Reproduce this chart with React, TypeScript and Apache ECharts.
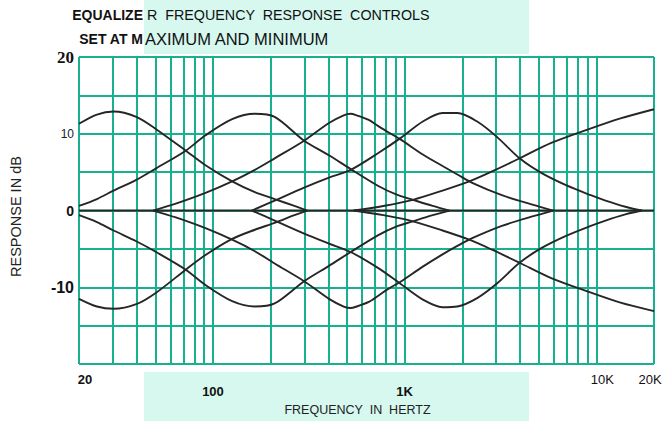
import React, { useEffect, useRef } from 'react';
import * as echarts from 'echarts';

// vertical grid (frequency) lines in Hz
const gridFreqs = [20, 30, 40, 50, 60, 70, 80, 90, 100, 200, 300, 400, 500, 600, 700, 800, 900, 1000, 2000, 3000, 4000, 5000, 6000, 7000, 8000, 9000, 10000, 20000];
const xTickValues = [20, 100, 1000, 10000, 20000];
const xTickLabels = ['20', '100', '1K', '10K', '20K'];
const xTickStyles = ['a', 'b', 'b', 'c', 'd'];
const yTickValues = [20, 10, 0, -10];
const yTickLabels = ['20', '10', '0', '-10'];
const yTickStyles = ['t', 's', 'z', 'm'];

// flat response
const flat = [[20, 0], [20000, 0]];

// boost curves (controls at maximum) [Hz, dB]
const boost1 = [[20, 11.3], [24.8, 12.5], [30.3, 12.9], [39.8, 12.2], [50.5, 10.6], [72.1, 7.8], [91.4, 5.9], [125.9, 3.8], [165.4, 2.4], [209.8, 1.5], [266, 0.6], [310, 0]];
const boost2 = [[20, 0.6], [24.8, 1.5], [30.3, 2.6], [39.8, 4.0], [50.5, 5.5], [72.1, 7.8], [91.4, 9.8], [125.9, 11.9], [165.4, 12.6], [209.8, 12.2], [299, 9.1], [403, 7.2], [523, 5.4], [729, 3.2], [903, 2.1], [1105, 1.4], [1401, 0.6], [1715, 0]];
const boost3 = [[48.7, 0], [64, 0.9], [91.4, 2.3], [125.9, 3.8], [165.4, 5.3], [209.8, 6.8], [299, 9.1], [403, 11.4], [481, 12.4], [523, 12.6], [562, 12.4], [650, 11.8], [729, 11.0], [821, 10.2], [947, 9.3], [1244, 7.3], [1577, 5.8], [1884, 4.7], [2252, 3.6], [3216, 2.0], [4590, 0.8], [5957, 0]];
const boost4 = [[159.6, 0], [209.8, 1.3], [299, 3.0], [403, 4.3], [523, 5.3], [729, 7.5], [947, 9.4], [1244, 11.6], [1577, 12.7], [1884, 12.7], [2390, 11.6], [3030, 9.6], [3979, 6.8], [5165, 4.9], [6952, 3.3], [9356, 2.0], [11170, 1.3], [14180, 0.5], [17300, 0]];
const boost5 = [[542, 0], [774, 0.6], [1105, 1.4], [1577, 2.6], [2173, 3.8], [2857, 5.1], [3979, 6.8], [5820, 8.8], [9141, 10.6], [13370, 12.0], [20000, 13.2]];

// cut curves (controls at minimum) [Hz, dB]
const cut1 = [[20, -11.5], [24.8, -12.5], [30.3, -12.8], [39.8, -12.2], [50.5, -10.7], [72.1, -7.7], [91.4, -5.8], [125.9, -3.7], [165.4, -2.5], [209.8, -1.6], [266, -0.6], [310, 0]];
const cut2 = [[20, -0.6], [24.8, -1.5], [30.3, -2.6], [39.8, -4.0], [50.5, -5.4], [72.1, -7.7], [91.4, -9.7], [125.9, -11.8], [165.4, -12.5], [209.8, -12.1], [299, -9.2], [403, -7.2], [523, -5.4], [729, -3.2], [903, -2.1], [1105, -1.4], [1401, -0.6], [1715, 0]];
const cut3 = [[48.7, 0], [64, -0.9], [91.4, -2.3], [125.9, -3.8], [165.4, -5.3], [209.8, -6.9], [299, -9.2], [403, -11.5], [481, -12.5], [523, -12.7], [562, -12.5], [650, -11.9], [729, -11.1], [821, -10.2], [947, -9.3], [1244, -7.3], [1577, -5.7], [1884, -4.6], [2252, -3.6], [3216, -2.0], [4590, -0.8], [5957, 0]];
const cut4 = [[159.6, 0], [209.8, -1.3], [299, -3.0], [403, -4.3], [523, -5.4], [729, -7.5], [947, -9.5], [1244, -11.6], [1577, -12.6], [1884, -12.5], [2390, -11.4], [3030, -9.5], [3979, -6.8], [5165, -4.9], [6952, -3.3], [9356, -2.0], [11170, -1.3], [14180, -0.5], [17300, 0]];
const cut5 = [[542, 0], [774, -0.6], [1105, -1.4], [1577, -2.6], [2173, -3.8], [2857, -5.1], [3979, -6.8], [5820, -8.8], [9141, -10.6], [13370, -12.0], [20000, -13.1]];

const curves = [boost1, boost2, boost3, boost4, boost5, cut1, cut2, cut3, cut4, cut5];

const GRID = '#19b08f';
const INK = '#262626';
const BAND = '#d6f8ef';
const SANS = '"Liberation Sans", Arial, sans-serif';

function findIdx(arr: number[], v: number, log: boolean) {
  for (let i = 0; i < arr.length; i++) {
    if (log) {
      if (Math.abs(Math.log10(v) - Math.log10(arr[i])) < 0.005) return i;
    } else if (Math.abs(v - arr[i]) < 1e-6) return i;
  }
  return -1;
}

export default function App() {
  const ref = useRef<HTMLDivElement>(null);
  useEffect(() => {
    if (!ref.current) return;
    const chart = echarts.init(ref.current, undefined, { renderer: 'svg' });
    const option: any = {
      animation: false,
      backgroundColor: '#ffffff',
      grid: { left: 72, right: 11, top: 57, bottom: 52, containLabel: false },
      xAxis: {
        type: 'log',
        logBase: 10,
        min: 20,
        max: 20000,
        name: 'FREQUENCY  IN  HERTZ',
        nameLocation: 'middle',
        nameGap: 35,
        nameTextStyle: { fontFamily: SANS, fontSize: 12.5, color: '#222', padding: [0, 18, 0, 0] },
        axisLine: { show: false },
        axisTick: { show: false },
        splitLine: { show: false },
        minorSplitLine: { show: false },
        axisLabel: {
          customValues: xTickValues,
          margin: 9,
          color: '#111',
          formatter: (v: number) => {
            const i = findIdx(xTickValues, v, true);
            if (i < 0) return '';
            return '{' + xTickStyles[i] + '|' + xTickLabels[i] + '}';
          },
          rich: {
            a: { fontFamily: SANS, fontSize: 13, fontWeight: 'bold', color: '#111', padding: [0, 0, 0, 12] },
            b: { fontFamily: SANS, fontSize: 13, fontWeight: 'bold', color: '#111', padding: [12, 0, 0, 0] },
            c: { fontFamily: SANS, fontSize: 13, color: '#111', padding: [0, 0, 0, 12] },
            d: { fontFamily: SANS, fontSize: 13, color: '#111', padding: [0, 8, 0, 0] },
          },
        },
      },
      yAxis: {
        type: 'value',
        min: -20,
        max: 20,
        interval: 5,
        name: 'RESPONSE IN dB',
        nameLocation: 'middle',
        nameRotate: 90,
        nameGap: 56,
        nameTextStyle: { fontFamily: SANS, fontSize: 14.5, color: '#222', padding: [0, 12, 0, 0] },
        axisLine: { show: false },
        axisTick: { show: false },
        splitLine: { show: true, lineStyle: { color: GRID, width: 2 } },
        axisLabel: {
          margin: 5,
          formatter: (v: number) => {
            const i = findIdx(yTickValues, v, false);
            if (i < 0) return '';
            return '{' + yTickStyles[i] + '|' + yTickLabels[i] + '}';
          },
          rich: {
            t: { fontFamily: '"Liberation Serif", "Times New Roman", serif', fontSize: 17, fontWeight: 'bold', color: '#111' },
            s: { fontFamily: SANS, fontSize: 12, color: '#222' },
            z: { fontFamily: SANS, fontSize: 14, fontWeight: 'bold', color: '#111' },
            m: { fontFamily: SANS, fontSize: 16, fontWeight: 'bold', color: '#111' },
          },
        },
      },
      graphic: [
        { type: 'rect', z: -10, silent: true, shape: { x: 144, y: 0, width: 385, height: 54 }, style: { fill: BAND } },
        { type: 'rect', z: -10, silent: true, shape: { x: 144, y: 372, width: 385, height: 49 }, style: { fill: BAND } },
        { type: 'text', z: 10, x: 143, y: 15, style: { text: 'EQUALIZE', fontFamily: SANS, fontSize: 14, fontWeight: 'bold', fill: '#111', textAlign: 'right', textVerticalAlign: 'middle' } },
        { type: 'text', z: 10, x: 147, y: 15, style: { text: 'R  FREQUENCY  RESPONSE  CONTROLS', fontFamily: SANS, fontSize: 14.3, fill: '#111', textAlign: 'left', textVerticalAlign: 'middle' } },
        { type: 'text', z: 10, x: 143, y: 39, style: { text: 'SET AT M', fontFamily: SANS, fontSize: 14, fontWeight: 'bold', fill: '#111', textAlign: 'right', textVerticalAlign: 'middle' } },
        { type: 'text', z: 10, x: 145, y: 39, style: { text: 'AXIMUM AND MINIMUM', fontFamily: SANS, fontSize: 16.5, fill: '#111', textAlign: 'left', textVerticalAlign: 'middle' } },
      ],
      series: [
        {
          type: 'line',
          data: flat,
          symbol: 'none',
          z: 4,
          lineStyle: { color: INK, width: 2 },
          markLine: {
            silent: true,
            symbol: ['none', 'none'],
            label: { show: false },
            lineStyle: { color: GRID, width: 2, type: 'solid' },
            data: gridFreqs.map((f) => ({ xAxis: f })),
            z: 1,
          },
        },
        ...curves.map((c) => ({
          type: 'line',
          data: c,
          symbol: 'none',
          smooth: 0.3,
          z: 5,
          lineStyle: { color: INK, width: 1.9 },
        })),
      ],
    };
    chart.setOption(option);
    return () => chart.dispose();
  }, []);
  return <div ref={ref} style={{ width: 665, height: 421, position: 'fixed', left: 0, top: 0 }} />;
}
